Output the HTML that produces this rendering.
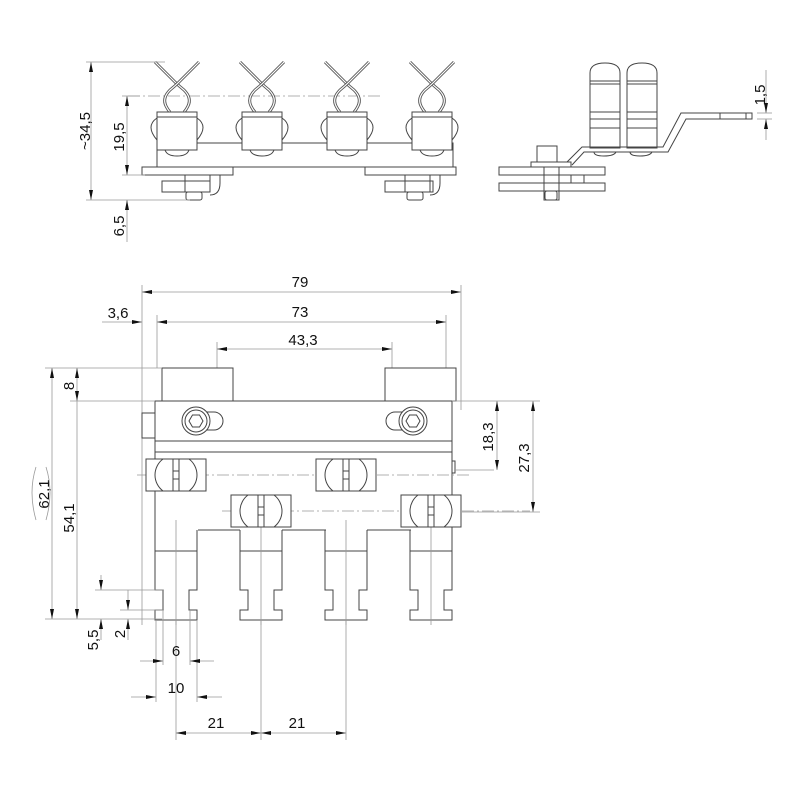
<!DOCTYPE html>
<html><head><meta charset="utf-8"><style>
html,body{margin:0;padding:0;background:#fff}
svg{display:block}
text{font-family:"Liberation Sans","DejaVu Sans",sans-serif;font-size:15px;fill:#111}
.o{fill:none;stroke:#444;stroke-width:1}
.w{fill:#fff;stroke:#444;stroke-width:1}
.d{fill:none;stroke:#999;stroke-width:0.8}
.c{fill:none;stroke:#999;stroke-width:0.8;stroke-dasharray:12 3 2 3}
.wa{fill:none;stroke:#555;stroke-width:3}
.wb{fill:none;stroke:#fff;stroke-width:1.2}
</style></head><body>
<svg width="800" height="800" viewBox="0 0 800 800">
<defs>
<marker id="ar" viewBox="0 0 10 4" refX="10" refY="2" markerWidth="12" markerHeight="4" markerUnits="userSpaceOnUse" orient="auto-start-reverse"><path d="M0,0L10,2L0,4z" fill="#111"/></marker>
<path id="wire" d="M-22,62 L-2,82 Q2,86 7,90 Q15,98 11,106 Q9,110 7,112"/>
<g id="clip">
 <use href="#wire" class="wa"/><use href="#wire" class="wb"/>
 <g transform="scale(-1,1)"><use href="#wire" class="wa"/><use href="#wire" class="wb"/></g>
 <path class="o" d="M-20,118 Q-32,126 -20,140 M20,118 Q32,126 20,140"/>
 <rect class="w" x="-20" y="112" width="40" height="38"/>
 <line class="o" x1="-20" y1="117" x2="20" y2="117"/>
 <path class="o" d="M-12,150 Q-10,156 0,156 Q10,156 12,150"/>
</g>
<g id="leg">
 <path class="o" d="M-21,530 V590 H-13 V610 H-21 V620 H21 V610 H13 V590 H21 V530"/>
 <line class="o" x1="-21" y1="551" x2="21" y2="551"/>
 <line class="d" x1="0" y1="520" x2="0" y2="625"/>
</g>
<g id="term">
 <rect class="w" x="-30" y="-16" width="60" height="32"/>
 <path class="o" d="M-3,-16 H-13 A20,20 0 0 0 -13,16 H-3 M3,-16 H13 A20,20 0 0 1 13,16 H3"/>
 <line class="o" x1="-3" y1="-16" x2="-3" y2="16"/><line class="o" x1="3" y1="-16" x2="3" y2="16"/>
 <rect class="o" x="-3" y="-4" width="6" height="8"/>
</g>
</defs>

<!-- ========== TOP VIEW ========== -->
<line class="c" x1="128" y1="96" x2="380" y2="96"/>
<rect class="o" x="157" y="143" width="296" height="24"/>
<rect class="w" x="142" y="167" width="91" height="8"/>
<rect class="w" x="365" y="167" width="91" height="8"/>
<line class="o" x1="142" y1="167" x2="456" y2="167"/>
<use href="#clip" x="177"/><use href="#clip" x="262"/><use href="#clip" x="347"/><use href="#clip" x="432"/>
<g>
 <rect class="o" x="185" y="175" width="25" height="17"/><rect class="o" x="162" y="181" width="48" height="11"/>
 <path class="o" d="M214,175 h6 v8 q0,12 -10,12"/><rect class="o" x="186" y="192" width="16" height="8" rx="2"/>
 <rect class="o" x="405" y="175" width="25" height="17"/><rect class="o" x="385" y="181" width="48" height="11"/>
 <path class="o" d="M434,175 h6 v8 q0,12 -10,12"/><rect class="o" x="407" y="192" width="16" height="8" rx="2"/>
</g>
<line class="d" x1="86" y1="62" x2="165" y2="62"/>
<line class="d" x1="86" y1="200" x2="190" y2="200"/>
<line class="d" x1="122" y1="96" x2="140" y2="96"/>
<line class="d" x1="122" y1="175" x2="145" y2="175"/>
<line class="d" x1="91" y1="62" x2="91" y2="200" marker-start="url(#ar)" marker-end="url(#ar)"/>
<line class="d" x1="127" y1="96" x2="127" y2="175" marker-start="url(#ar)" marker-end="url(#ar)"/>
<line class="d" x1="127" y1="200" x2="127" y2="242" marker-start="url(#ar)"/>
<text transform="translate(90,131) rotate(-90)" text-anchor="middle">~34,5</text>
<text transform="translate(124,137) rotate(-90)" text-anchor="middle">19,5</text>
<text transform="translate(124,226) rotate(-90)" text-anchor="middle">6,5</text>

<!-- ========== SIDE VIEW ========== -->
<path class="w" d="M590,148 V73 Q590,63 605,63 Q620,63 620,73 V148 Z"/>
<path class="w" d="M627,148 V73 Q627,63 642,63 Q657,63 657,73 V148 Z"/>
<path class="o" d="M590,81 H620 M590,84 H620 M627,81 H657 M627,84 H657 M590,112 H620 M590,119 H620 M590,128 H620 M627,112 H657 M627,119 H657 M627,128 H657"/>
<path class="o" d="M567,162 L582,147 H663 L681,113 H746 V119 H686 L668,152 H584 L572,165"/>
<line class="o" x1="720" y1="113" x2="720" y2="119"/>
<rect class="o" x="746" y="113" width="6" height="6"/>
<path class="o" d="M594,152 q0,4 10,4 q10,0 12,-4 M630,152 q0,4 10,4 q10,0 12,-4"/>
<rect class="w" x="537" y="146" width="20" height="16"/>
<rect class="w" x="531" y="162" width="40" height="5"/>
<rect class="w" x="499" y="167" width="106" height="8"/>
<rect class="w" x="499" y="183" width="106" height="8"/>
<rect class="o" x="544" y="167" width="15" height="33"/>
<rect class="o" x="571" y="175" width="13" height="8"/>
<rect class="o" x="545" y="191" width="12" height="9" rx="2"/>
<line class="d" x1="757" y1="113" x2="772" y2="113"/><line class="d" x1="757" y1="119" x2="772" y2="119"/>
<line class="d" x1="766" y1="70" x2="766" y2="113" marker-end="url(#ar)"/>
<line class="d" x1="766" y1="140" x2="766" y2="119" marker-end="url(#ar)"/>
<text transform="translate(765,95) rotate(-90)" text-anchor="middle">1,5</text>

<!-- ========== BOTTOM VIEW ========== -->
<line class="d" x1="142" y1="285" x2="142" y2="625"/>
<line class="d" x1="461" y1="285" x2="461" y2="410"/>
<line class="d" x1="157" y1="315" x2="157" y2="368"/>
<line class="d" x1="446" y1="315" x2="446" y2="368"/>
<line class="d" x1="217" y1="342" x2="217" y2="368"/>
<line class="d" x1="392" y1="342" x2="392" y2="368"/>
<line class="d" x1="142" y1="292" x2="461" y2="292" marker-start="url(#ar)" marker-end="url(#ar)"/>
<text x="300" y="287" text-anchor="middle">79</text>
<line class="d" x1="157" y1="322" x2="446" y2="322" marker-start="url(#ar)" marker-end="url(#ar)"/>
<line class="d" x1="102" y1="322" x2="142" y2="322" marker-end="url(#ar)"/>
<text x="300" y="317" text-anchor="middle">73</text>
<text x="118" y="318" text-anchor="middle">3,6</text>
<line class="d" x1="217" y1="349" x2="392" y2="349" marker-start="url(#ar)" marker-end="url(#ar)"/>
<text x="303" y="345" text-anchor="middle">43,3</text>

<rect class="w" x="162" y="368" width="71" height="33"/>
<rect class="w" x="385" y="368" width="71" height="33"/>
<path class="o" d="M155,441 V530 M452,441 V530 M198,530 H240 M282,530 H326 M367,530 H411"/>
<rect class="w" x="155" y="401" width="297" height="40"/>
<line class="o" x1="155" y1="452" x2="452" y2="452"/>
<rect class="w" x="142" y="413" width="13" height="25"/>
<rect class="o" x="452" y="461" width="3" height="12"/>
<path class="o" d="M205,412 H214 A9,9 0 0 1 214,430 H205"/>
<circle class="w" cx="196" cy="421" r="14"/><circle class="o" cx="196" cy="421" r="11"/>
<polygon class="o" points="203,421 199.5,427 192.5,427 189,421 192.5,415 199.5,415"/>
<path class="o" d="M404,412 H395 A9,9 0 0 0 395,430 H404"/>
<circle class="w" cx="413" cy="421" r="14"/><circle class="o" cx="413" cy="421" r="11"/>
<polygon class="o" points="420,421 416.5,427 409.5,427 406,421 409.5,415 416.5,415"/>
<use href="#leg" x="176"/><use href="#leg" x="261"/><use href="#leg" x="346"/><use href="#leg" x="431"/>
<line class="c" x1="137" y1="475" x2="470" y2="475"/>
<line class="c" x1="222" y1="511" x2="530" y2="511"/>
<use href="#term" x="176" y="475"/><use href="#term" x="346" y="475"/>
<use href="#term" x="261" y="511"/><use href="#term" x="431" y="511"/>

<line class="d" x1="45" y1="368" x2="162" y2="368"/>
<line class="d" x1="70" y1="401" x2="155" y2="401"/>
<line class="d" x1="45" y1="619" x2="162" y2="619"/>
<line class="d" x1="95" y1="590" x2="164" y2="590"/>
<line class="d" x1="120" y1="610" x2="164" y2="610"/>
<line class="d" x1="52" y1="368" x2="52" y2="619" marker-start="url(#ar)" marker-end="url(#ar)"/>
<line class="d" x1="77" y1="368" x2="77" y2="401" marker-start="url(#ar)" marker-end="url(#ar)"/>
<line class="d" x1="77" y1="401" x2="77" y2="619" marker-end="url(#ar)"/>
<text transform="translate(74,386) rotate(-90)" text-anchor="middle">8</text>
<text transform="translate(49,494) rotate(-90)" text-anchor="middle">62,1</text>
<path class="d" d="M36,467 Q28,492 36,520 M46,467 Q54,492 46,520"/>
<text transform="translate(74,518) rotate(-90)" text-anchor="middle">54,1</text>
<line class="d" x1="101" y1="575" x2="101" y2="590" marker-end="url(#ar)"/>
<line class="d" x1="101" y1="640" x2="101" y2="619" marker-end="url(#ar)"/>
<text transform="translate(98,640) rotate(-90)" text-anchor="middle">5,5</text>
<line class="d" x1="128" y1="590" x2="128" y2="610" marker-end="url(#ar)"/>
<line class="d" x1="128" y1="640" x2="128" y2="619" marker-end="url(#ar)"/>
<text transform="translate(125,634) rotate(-90)" text-anchor="middle">2</text>

<line class="d" x1="156" y1="620" x2="156" y2="702"/>
<line class="d" x1="197" y1="620" x2="197" y2="702"/>
<line class="d" x1="163" y1="610" x2="163" y2="665"/>
<line class="d" x1="190" y1="610" x2="190" y2="665"/>
<line class="d" x1="176" y1="620" x2="176" y2="740"/>
<line class="d" x1="261" y1="620" x2="261" y2="740"/>
<line class="d" x1="346" y1="620" x2="346" y2="740"/>
<line class="d" x1="140" y1="661" x2="163" y2="661" marker-end="url(#ar)"/>
<line class="d" x1="214" y1="661" x2="190" y2="661" marker-end="url(#ar)"/>
<text x="176" y="656" text-anchor="middle">6</text>
<line class="d" x1="131" y1="697" x2="156" y2="697" marker-end="url(#ar)"/>
<line class="d" x1="222" y1="697" x2="197" y2="697" marker-end="url(#ar)"/>
<text x="176" y="693" text-anchor="middle">10</text>
<line class="d" x1="176" y1="733" x2="261" y2="733" marker-start="url(#ar)" marker-end="url(#ar)"/>
<line class="d" x1="261" y1="733" x2="346" y2="733" marker-start="url(#ar)" marker-end="url(#ar)"/>
<text x="216" y="728" text-anchor="middle">21</text>
<text x="297" y="728" text-anchor="middle">21</text>

<line class="d" x1="452" y1="401" x2="540" y2="401"/>
<line class="d" x1="455" y1="470" x2="494" y2="470"/>
<line class="d" x1="462" y1="512" x2="540" y2="512"/>
<line class="d" x1="497" y1="401" x2="497" y2="470" marker-start="url(#ar)" marker-end="url(#ar)"/>
<text transform="translate(493,437) rotate(-90)" text-anchor="middle">18,3</text>
<line class="d" x1="533" y1="401" x2="533" y2="512" marker-start="url(#ar)" marker-end="url(#ar)"/>
<text transform="translate(529,458) rotate(-90)" text-anchor="middle">27,3</text>
</svg>
</body></html>
